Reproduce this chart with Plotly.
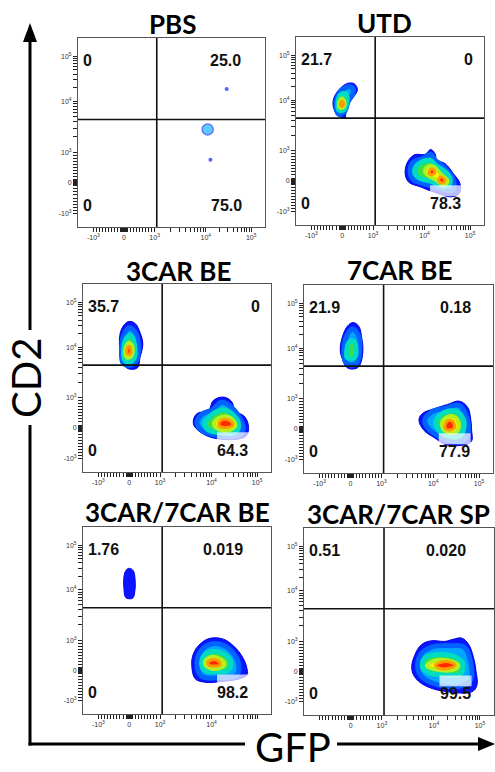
import numpy as np
import plotly.graph_objects as go

# ---------------------------------------------------------------- data
TITLES = ["PBS", "UTD", "3CAR BE", "7CAR BE", "3CAR/7CAR BE", "3CAR/7CAR SP"]

# quadrant frequencies (% of parent), as printed
Q_UL = ["0", "21.7", "35.7", "21.9", "1.76", "0.51"]    # CD2+ GFP-
Q_UR = ["25.0", "0", "0", "0.18", "0.019", "0.020"]     # CD2+ GFP+
Q_LL = ["0", "0", "0", "0", "0", "0"]                   # CD2- GFP-
Q_LR = ["75.0", "78.3", "64.3", "77.9", "98.2", "99.5"]  # CD2- GFP+

# quadrant gate (raw fluorescence)
GATE_GFP = 1100.0
GATE_CD2 = 4400.0

# axis ticks (raw fluorescence)
TICK_RAW = [-1000, 0, 1000, 1e4, 1e5]
TICK_TEXT = ["-10<sup>3</sup>", "0", "10<sup>3</sup>", "10<sup>4</sup>", "10<sup>5</sup>"]

# PBS control: the few recorded events (display units: GFP, CD2)
PBS_GFP = [2.73, 3.35, 2.82]
PBS_CD2 = [1.75, 3.08, 0.76]

# density contours of each population, (level, outline) in display units
# level 0 = lowest density (outer) ... level 4 = peak
CONTOURS = {
    1: [  # UTD
        (0, [(0.02, 2.08), (-0.16, 2.19), (-0.29, 2.45), (-0.27, 2.74), (-0.09, 3.03), (0.17, 3.22),
             (0.40, 3.20), (0.49, 3.00), (0.36, 2.76), (0.20, 2.52), (0.12, 2.27), (0.09, 2.08)]),
        (1, [(-0.12, 2.2), (-0.2, 2.5), (-0.15, 2.8), (0.05, 3.05), (0.3, 3.1), (0.37, 2.95), (0.2, 2.65), (0.08, 2.3)]),
        (2, [(-0.1, 2.33), (-0.14, 2.6), (-0.05, 2.85), (0.12, 2.87), (0.15, 2.62), (0.05, 2.35)]),
        (3, [(-0.07, 2.42), (-0.1, 2.58), (-0.01, 2.72), (0.07, 2.6), (0.03, 2.43)]),
        (4, [(-0.05, 2.48), (-0.06, 2.57), (0.0, 2.62), (0.04, 2.55), (0.01, 2.47)]),
        (0, [(2.04, 0.30), (2.15, 0.68), (2.36, 0.87), (2.69, 0.88), (2.87, 1.04), (3.01, 0.90), (3.07, 0.70),
             (3.34, 0.57), (3.61, 0.24), (3.82, -0.08), (3.80, -0.41), (3.55, -0.52), (2.96, -0.36),
             (2.53, -0.19), (2.15, -0.03)]),
        (1, [(2.2, 0.3), (2.3, 0.62), (2.6, 0.74), (2.88, 0.88), (3.0, 0.7), (3.3, 0.45), (3.6, 0.05),
             (3.58, -0.3), (3.2, -0.25), (2.7, -0.1), (2.3, 0.05)]),
        (2, [(2.35, 0.3), (2.5, 0.58), (2.85, 0.68), (3.05, 0.5), (3.4, 0.25), (3.5, -0.05), (3.3, -0.17),
             (2.9, -0.02), (2.5, 0.1)]),
        (3, [(2.68, 0.33), (2.84, 0.5), (3.0, 0.45), (3.2, 0.22), (3.42, 0.0), (3.3, -0.12), (3.05, 0.03), (2.8, 0.18)]),
        (4, [(2.82, 0.3), (2.9, 0.4), (3.0, 0.33), (2.95, 0.22), (2.85, 0.22)]),
        (4, [(3.13, 0.05), (3.2, 0.14), (3.33, 0.03), (3.28, -0.06), (3.15, -0.03)]),
    ],
    2: [  # 3CAR BE
        (0, [(-0.03, 3.51), (0.19, 3.45), (0.35, 3.15), (0.44, 2.77), (0.35, 2.33), (0.26, 1.98),
             (-0.08, 1.98), (-0.25, 2.33), (-0.32, 2.77), (-0.25, 3.26)]),
        (1, [(0.05, 2.08), (-0.2, 2.15), (-0.25, 2.6), (-0.2, 3.0), (0.0, 3.3), (0.2, 3.15), (0.3, 2.7), (0.22, 2.2)]),
        (2, [(0.0, 2.18), (-0.15, 2.25), (-0.18, 2.6), (-0.1, 2.95), (0.05, 3.05), (0.17, 2.75), (0.15, 2.3)]),
        (3, [(0.0, 2.32), (-0.1, 2.35), (-0.12, 2.6), (-0.03, 2.8), (0.08, 2.75), (0.1, 2.45)]),
        (4, [(0.03, 2.43), (-0.06, 2.45), (-0.07, 2.6), (0.0, 2.7), (0.05, 2.6)]),
        (0, [(2.08, 0.15), (2.19, 0.47), (2.57, 0.58), (2.73, 0.91), (3.06, 1.02), (3.33, 0.86), (3.43, 0.58),
             (3.76, 0.36), (3.87, -0.02), (3.76, -0.29), (2.84, -0.35), (2.30, -0.13)]),
        (1, [(2.2, 0.15), (2.35, 0.45), (2.7, 0.6), (3.0, 0.85), (3.3, 0.7), (3.6, 0.3), (3.7, -0.05),
             (3.5, -0.25), (2.9, -0.25), (2.4, -0.1)]),
        (2, [(2.45, 0.15), (2.7, 0.45), (3.05, 0.6), (3.35, 0.45), (3.55, 0.1), (3.4, -0.15), (2.9, -0.15), (2.55, -0.05)]),
        (3, [(2.75, 0.15), (2.95, 0.35), (3.25, 0.35), (3.45, 0.1), (3.3, -0.05), (2.9, -0.05)]),
        (4, [(2.9, 0.15), (3.05, 0.28), (3.3, 0.22), (3.35, 0.08), (3.15, 0.02), (2.95, 0.05)]),
    ],
    3: [  # 7CAR BE
        (0, [(0.08, 3.51), (0.26, 3.40), (0.37, 2.97), (0.40, 2.58), (0.32, 2.15), (0.21, 2.01),
             (-0.09, 2.01), (-0.28, 2.36), (-0.33, 2.64), (-0.25, 3.07), (-0.09, 3.40)]),
        (1, [(0.05, 2.1), (-0.15, 2.2), (-0.22, 2.6), (-0.15, 3.0), (0.05, 3.3), (0.25, 3.1), (0.3, 2.6), (0.22, 2.2)]),
        (2, [(-0.1, 2.35), (-0.12, 2.6), (-0.05, 2.85), (0.1, 2.9), (0.18, 2.6), (0.12, 2.35)]),
        (0, [(2.21, 0.29), (2.32, 0.51), (2.70, 0.67), (3.13, 0.81), (3.51, 0.92), (3.78, 0.72), (3.87, 0.40),
             (3.91, -0.04), (3.89, -0.42), (3.13, -0.53), (2.70, -0.28), (2.37, -0.04)]),
        (1, [(2.4, 0.3), (2.6, 0.55), (3.1, 0.7), (3.5, 0.78), (3.75, 0.4), (3.8, -0.1), (3.6, -0.4),
             (3.1, -0.35), (2.7, -0.15), (2.45, 0.1)]),
        (2, [(2.75, 0.25), (2.95, 0.5), (3.3, 0.6), (3.6, 0.4), (3.65, 0.0), (3.45, -0.25), (3.05, -0.2), (2.8, 0.05)]),
        (3, [(2.95, 0.15), (3.1, 0.38), (3.35, 0.4), (3.5, 0.15), (3.4, -0.1), (3.1, -0.1)]),
        (4, [(3.05, 0.12), (3.15, 0.28), (3.3, 0.25), (3.35, 0.05), (3.2, -0.03), (3.07, 0.0)]),
    ],
    4: [  # 3CAR/7CAR BE
        (0, [(0.0, 3.38), (0.13, 3.3), (0.19, 3.0), (0.18, 2.6), (0.12, 2.4), (0.0, 2.37), (-0.12, 2.42),
             (-0.17, 2.7), (-0.17, 3.1), (-0.1, 3.32)]),
        (0, [(2.03, 0.16), (2.08, 0.54), (2.30, 0.87), (2.62, 1.06), (3.06, 1.03), (3.38, 0.81), (3.65, 0.48),
             (3.81, 0.10), (3.81, -0.17), (2.84, -0.39), (2.41, -0.39), (2.14, -0.28)]),
        (1, [(2.2, 0.2), (2.3, 0.6), (2.6, 0.85), (3.0, 0.85), (3.35, 0.6), (3.55, 0.2), (3.5, -0.15),
             (2.9, -0.25), (2.35, -0.2)]),
        (2, [(2.35, 0.22), (2.45, 0.5), (2.7, 0.62), (3.05, 0.55), (3.3, 0.25), (3.2, 0.0), (2.8, -0.05), (2.45, 0.0)]),
        (3, [(2.45, 0.25), (2.6, 0.42), (2.85, 0.42), (3.1, 0.22), (2.95, 0.08), (2.6, 0.08)]),
        (4, [(2.55, 0.25), (2.68, 0.35), (2.9, 0.3), (2.95, 0.18), (2.75, 0.14), (2.6, 0.16)]),
    ],
    5: [  # 3CAR/7CAR SP
        (0, [(1.96, 0.08), (2.05, 0.52), (2.27, 0.88), (2.59, 1.01), (3.02, 0.99), (3.29, 1.06), (3.56, 1.10),
             (3.78, 0.90), (3.94, 0.46), (4.02, 0.02), (4.05, -0.47), (3.89, -0.68), (3.13, -0.68),
             (2.48, -0.52), (2.10, -0.25)]),
        (1, [(2.15, 0.1), (2.25, 0.55), (2.6, 0.8), (3.2, 0.85), (3.65, 0.8), (3.85, 0.3), (3.85, -0.3),
             (3.5, -0.5), (2.8, -0.45), (2.3, -0.2)]),
        (2, [(2.3, 0.15), (2.4, 0.45), (2.8, 0.55), (3.3, 0.5), (3.6, 0.25), (3.5, -0.1), (3.0, -0.1), (2.5, -0.05)]),
        (3, [(2.45, 0.18), (2.7, 0.35), (3.15, 0.35), (3.45, 0.2), (3.3, 0.05), (2.8, 0.05)]),
        (4, [(2.72, 0.2), (2.9, 0.3), (3.2, 0.3), (3.35, 0.2), (3.15, 0.1), (2.85, 0.1)]),
    ],
}

# ---------------------------------------------------------------- scale
def biex(v):
    """Biexponential-like display transform used by the cytometer axes."""
    v = float(v)
    if abs(v) <= 1000:
        return v / 1000.0
    lv = np.log10(abs(v))
    if lv <= 4:
        u = 1 + (lv - 3) * 1.67
    else:
        u = 2.67 + (lv - 4) * 1.48
    return u if v > 0 else -u


# unlabelled intermediate ticks: linear around zero, logarithmic above 10^3
MINOR_RAW = ([s * k * 100 for k in range(1, 10) for s in (-1, 1)]
             + [s * k * 10 for k in range(1, 10) for s in (-1, 1)]
             + [k * 1000 for k in range(2, 10)] + [k * 10000 for k in range(2, 10)])
ALL_TICK_U = [biex(v) for v in TICK_RAW] + [biex(v) for v in MINOR_RAW]

# ---------------------------------------------------------------- layout
W, H = 495, 772
BOXES = [(78, 38, 265, 227), (296, 37, 484, 225), (83, 284, 271, 472),
         (304, 285, 493, 473), (83, 527, 271, 714), (304, 528, 494, 715)]
TITLE_POS = [(172, 24), (384, 23), (178, 271), (399, 270), (177, 512), (398, 514)]
X_RANGE = [-1.5, 4.6]
Y_RANGE = [-1.45, 4.75]
UR_RIGHT = [3.89, 4.31, 4.30, 3.94, 3.76, 3.78]
HIDDEN_XTICK = {4: [1e5], 5: [-1000]}

LEVEL_FILL = ["#0a14ff", "#00a6ff", "#3ede46", "#fff200", "#ff2a00"]
LEVEL_EDGE = ["#0000e6", "#0062ff", "#00dcc0", "#b4f020", "#ff9a00"]
LEVEL_WIDTH = [1, 5, 5, 4, 3]


def px(x):
    return x / W


def py(y):
    return 1 - y / H


fig = go.Figure()
shapes, annotations = [], []
LABEL_FONT = dict(family="Liberation Sans, Arial, sans-serif", size=16, color="#111", weight="bold")
tickfont = dict(family="Liberation Sans, Arial, sans-serif", size=7, color="#333")
blank = [""] * (len(ALL_TICK_U) - len(TICK_RAW))

for i, (l, t, r, b) in enumerate(BOXES):
    s = "" if i == 0 else str(i + 1)
    xa, ya = "x" + s, "y" + s
    hidden = HIDDEN_XTICK.get(i, [])
    xtext = [("" if raw in hidden else txt) for raw, txt in zip(TICK_RAW, TICK_TEXT)] + blank
    common = dict(showline=True, mirror=True, linecolor="#555", linewidth=1,
                  ticks="outside", ticklen=4, tickwidth=1, tickcolor="#222",
                  tickmode="array", tickvals=ALL_TICK_U, tickfont=tickfont,
                  showgrid=False, zeroline=False, fixedrange=True)
    fig.layout["xaxis" + s] = dict(common, domain=[px(l), px(r)], range=X_RANGE,
                                   anchor=ya, ticktext=xtext)
    fig.layout["yaxis" + s] = dict(common, domain=[py(b), py(t)], range=Y_RANGE,
                                   anchor=xa, ticktext=TICK_TEXT + blank)

    # density contours
    for level, pts in CONTOURS.get(i, []):
        xs = [p[0] for p in pts] + [pts[0][0]]
        ys = [p[1] for p in pts] + [pts[0][1]]
        fig.add_trace(go.Scatter(
            x=xs, y=ys, xaxis=xa, yaxis=ya, mode="lines", fill="toself",
            fillcolor=LEVEL_FILL[level],
            line=dict(shape="spline", smoothing=1.1, color=LEVEL_EDGE[level], width=LEVEL_WIDTH[level]),
            hoverinfo="skip", showlegend=False))

    if i == 0:
        fig.add_trace(go.Scatter(
            x=PBS_GFP, y=PBS_CD2, xaxis=xa, yaxis=ya, mode="markers",
            marker=dict(size=[11, 4, 4], color=["#19b8ff", "#1020ff", "#1020ff"],
                        line=dict(color="#1a3cff", width=[1.5, 0, 0])),
            hoverinfo="skip", showlegend=False))

    # quadrant gate
    gx, gy = biex(GATE_GFP), biex(GATE_CD2)
    shapes.append(dict(type="line", xref=xa, yref=ya, x0=gx, x1=gx, y0=Y_RANGE[0], y1=Y_RANGE[1],
                       line=dict(color="#111", width=1.6), layer="above"))
    shapes.append(dict(type="line", xref=xa, yref=ya, x0=X_RANGE[0], x1=X_RANGE[1], y0=gy, y1=gy,
                       line=dict(color="#111", width=1.6), layer="above"))
    # translucent label backdrop of the lower-right frequency
    shapes.append(dict(type="rect", xref=xa, yref=ya, x0=2.85, x1=3.88, y0=-0.5, y1=-0.14,
                       fillcolor="rgba(255,255,255,0.72)", line=dict(width=0), layer="above"))

    # quadrant frequencies
    for txt, x, y, anc in [(Q_UL[i], -1.4, 4.0, "left"), (Q_UR[i], UR_RIGHT[i], 4.0, "right"),
                           (Q_LL[i], -1.4, -0.74, "left"), (Q_LR[i], 3.93, -0.74, "right")]:
        annotations.append(dict(text=txt, x=x, y=y, xref=xa, yref=ya, xanchor=anc, yanchor="middle",
                                showarrow=False, font=LABEL_FONT))

    # sample title
    tx, ty = TITLE_POS[i]
    annotations.append(dict(text=TITLES[i], x=px(tx), y=py(ty), xref="paper", yref="paper",
                            xanchor="center", yanchor="middle", showarrow=False,
                            font=dict(family="Lato, Open Sans, sans-serif", size=26, color="#000", weight="bold")))

# global axis arrows
AX_X, AX_Y = 30, 744
arrow = dict(color="#000", width=3)
shapes += [
    dict(type="line", xref="paper", yref="paper", x0=px(AX_X), x1=px(AX_X), y0=py(AX_Y + 1.5), y1=py(425), line=arrow),
    dict(type="line", xref="paper", yref="paper", x0=px(AX_X), x1=px(AX_X), y0=py(330), y1=py(38), line=arrow),
    dict(type="path", xref="paper", yref="paper",
         path=f"M {px(AX_X)} {py(23)} L {px(AX_X - 7)} {py(42)} L {px(AX_X + 7)} {py(42)} Z",
         fillcolor="#000", line=dict(width=0)),
    dict(type="line", xref="paper", yref="paper", x0=px(AX_X - 1.5), x1=px(245), y0=py(AX_Y), y1=py(AX_Y), line=arrow),
    dict(type="line", xref="paper", yref="paper", x0=px(337), x1=px(482), y0=py(AX_Y), y1=py(AX_Y), line=arrow),
    dict(type="path", xref="paper", yref="paper",
         path=f"M {px(495)} {py(AX_Y)} L {px(478)} {py(AX_Y - 7)} L {px(478)} {py(AX_Y + 7)} Z",
         fillcolor="#000", line=dict(width=0)),
]
annotations += [
    dict(text="CD2", x=px(26), y=py(378), xref="paper", yref="paper", textangle=-90,
         xanchor="center", yanchor="middle", showarrow=False,
         font=dict(family="Lato, Open Sans, sans-serif", size=40, color="#000")),
    dict(text="GFP", x=px(293), y=py(747), xref="paper", yref="paper",
         xanchor="center", yanchor="middle", showarrow=False,
         font=dict(family="Lato, Open Sans, sans-serif", size=40, color="#000")),
]

fig.update_layout(width=W, height=H, margin=dict(l=0, r=0, t=0, b=0),
                  paper_bgcolor="white", plot_bgcolor="white", showlegend=False,
                  shapes=shapes, annotations=annotations)
fig.write_html("out.html")
